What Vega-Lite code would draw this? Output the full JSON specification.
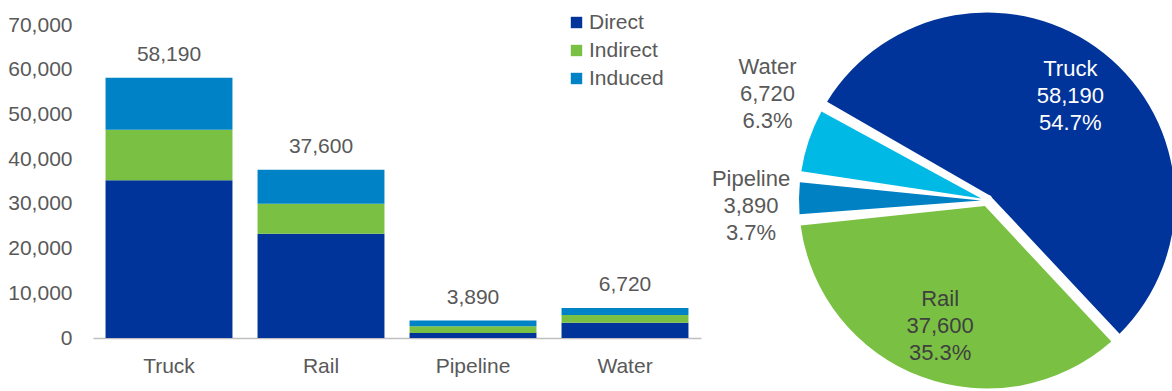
{
  "$schema": "https://vega.github.io/schema/vega-lite/v6.json",
  "background": "white",
  "padding": {"left": 7, "top": 12, "right": 0, "bottom": 0},
  "config": {
    "font": "Liberation Sans, Arial, sans-serif",
    "view": {"stroke": null}
  },
  "data": {
    "values": [
      {"mode": "Truck", "type": "Direct", "value": 35300},
      {"mode": "Truck", "type": "Indirect", "value": 11300},
      {"mode": "Truck", "type": "Induced", "value": 11590},
      {"mode": "Rail", "type": "Direct", "value": 23300},
      {"mode": "Rail", "type": "Indirect", "value": 6700},
      {"mode": "Rail", "type": "Induced", "value": 7600},
      {"mode": "Pipeline", "type": "Direct", "value": 1100},
      {"mode": "Pipeline", "type": "Indirect", "value": 1500},
      {"mode": "Pipeline", "type": "Induced", "value": 1290},
      {"mode": "Water", "type": "Direct", "value": 3400},
      {"mode": "Water", "type": "Indirect", "value": 1740},
      {"mode": "Water", "type": "Induced", "value": 1580}
    ]
  },
  "bounds": "flush",
  "spacing": 100,
  "resolve": {"scale": {"color": "independent"}, "legend": {"color": "independent"}},
  "hconcat": [
    {
      "width": 608,
      "height": 313,
      "layer": [
        {
          "transform": [
            {"calculate": "indexof(['Direct','Indirect','Induced'], datum.type)", "as": "typeOrder"}
          ],
          "mark": {"type": "bar"},
          "encoding": {
            "x": {
              "field": "mode", "type": "nominal",
              "sort": ["Truck", "Rail", "Pipeline", "Water"],
              "scale": {"paddingInner": 0.165, "paddingOuter": 0.0825},
              "axis": {
                "title": null, "labelAngle": 0, "ticks": false, "tickSize": 0,
                "labelPadding": 17, "labelFontSize": 21, "labelColor": "#595959",
                "domainColor": "#BFBFBF", "domainWidth": 1.5, "grid": false
              }
            },
            "y": {
              "field": "value", "type": "quantitative", "stack": "zero",
              "scale": {"domain": [0, 70000], "nice": false},
              "axis": {
                "title": null, "values": [0, 10000, 20000, 30000, 40000, 50000, 60000, 70000],
                "format": ",d", "ticks": false, "tickSize": 0, "domain": false, "grid": false,
                "labelPadding": 21, "labelFontSize": 21, "labelColor": "#595959"
              }
            },
            "color": {
              "field": "type", "type": "nominal",
              "scale": {"domain": ["Direct", "Indirect", "Induced"], "range": ["#00349A", "#7AC143", "#0082C6"]},
              "legend": {
                "title": null, "orient": "none", "legendX": 473, "legendY": -13,
                "symbolType": "square", "symbolSize": 130, "symbolStrokeWidth": 0,
                "labelFontSize": 21, "labelColor": "#595959", "labelOffset": 2, "rowPadding": 6
              }
            },
            "order": {"field": "typeOrder", "type": "quantitative"}
          }
        },
        {
          "transform": [
            {"aggregate": [{"op": "sum", "field": "value", "as": "total"}], "groupby": ["mode"]}
          ],
          "mark": {"type": "text", "dy": -23, "fontSize": 21, "color": "#595959", "baseline": "middle"},
          "encoding": {
            "x": {"field": "mode", "type": "nominal", "sort": ["Truck", "Rail", "Pipeline", "Water"]},
            "y": {"field": "total", "type": "quantitative"},
            "text": {"field": "total", "type": "quantitative", "format": ",d"}
          }
        }
      ]
    },
    {
      "width": 372,
      "height": 351,
      "transform": [
        {"aggregate": [{"op": "sum", "field": "value", "as": "total"}], "groupby": ["mode"]},
        {"calculate": "indexof(['Truck','Rail','Pipeline','Water'], datum.mode)", "as": "modeOrder"},
        {"stack": "total", "groupby": [], "sort": [{"field": "modeOrder", "order": "ascending"}], "offset": "normalize", "as": ["t0", "t1"]},
        {"calculate": "(datum.t0 + datum.t1) / 2", "as": "mid"},
        {"calculate": "datum.mode + '\\n' + format(datum.total, ',') + '\\n' + format(datum.t1 - datum.t0, '.1%')", "as": "label"}
      ],
      "layer": [
        {
          "mark": {"type": "arc", "outerRadius": 188, "innerRadius": 6, "padAngle": 0.06},
          "encoding": {
            "theta": {"field": "t0", "type": "quantitative", "stack": null, "scale": {"domain": [0, 1], "range": [-1.0472, 5.236]}},
            "theta2": {"field": "t1"},
            "color": {
              "field": "mode", "type": "nominal",
              "scale": {"domain": ["Truck", "Rail", "Pipeline", "Water"], "range": ["#00349A", "#7AC143", "#0081C4", "#00B9E5"]},
              "legend": null
            }
          }
        },
        {
          "transform": [{"filter": "datum.mode === 'Truck' || datum.mode === 'Rail'"}],
          "mark": {"type": "text", "radius": 134, "dy": -27, "fontSize": 22, "lineBreak": "\n", "lineHeight": 27, "align": "center", "baseline": "middle"},
          "encoding": {
            "theta": {"field": "mid", "type": "quantitative", "stack": null},
            "text": {"field": "label", "type": "nominal"},
            "color": {"condition": {"test": "datum.mode === 'Truck'", "value": "#FFFFFF"}, "value": "#404040"}
          }
        },
        {
          "transform": [{"filter": "datum.mode === 'Pipeline'"}],
          "mark": {"type": "text", "radius": 236, "thetaOffset": -0.034, "dy": -27, "fontSize": 22, "lineBreak": "\n", "lineHeight": 27, "align": "center", "baseline": "middle", "color": "#595959"},
          "encoding": {
            "theta": {"field": "mid", "type": "quantitative", "stack": null},
            "text": {"field": "label", "type": "nominal"}
          }
        },
        {
          "transform": [{"filter": "datum.mode === 'Water'"}],
          "mark": {"type": "text", "radius": 244, "thetaOffset": 0.127, "dy": -27, "fontSize": 22, "lineBreak": "\n", "lineHeight": 27, "align": "center", "baseline": "middle", "color": "#595959"},
          "encoding": {
            "theta": {"field": "mid", "type": "quantitative", "stack": null},
            "text": {"field": "label", "type": "nominal"}
          }
        }
      ]
    }
  ]
}
